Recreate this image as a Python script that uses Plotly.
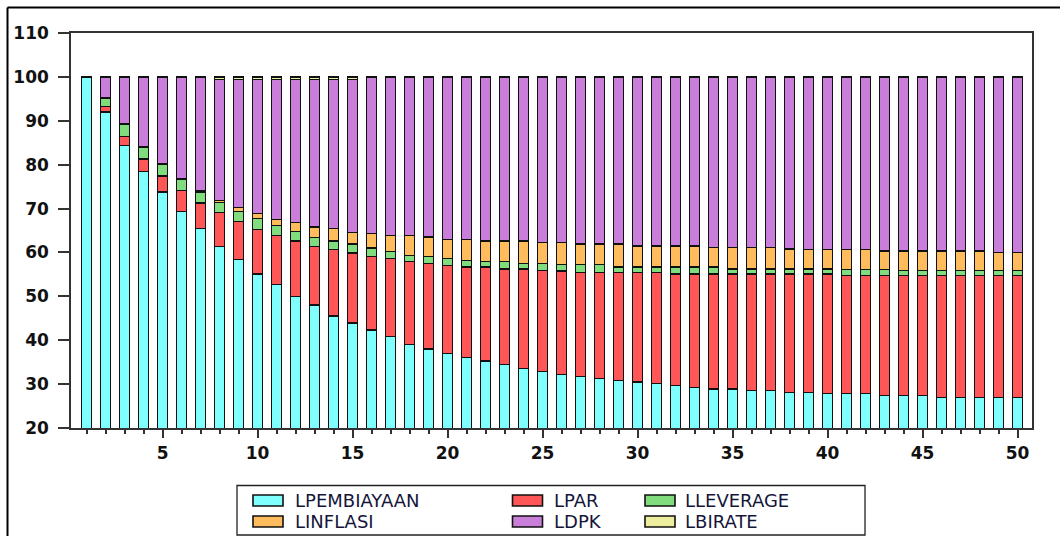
import plotly.graph_objects as go

# Forecast-error variance decomposition, periods 1..50 (percent)
periods = list(range(1, 51))

series_names = ["LPEMBIAYAAN", "LPAR", "LLEVERAGE", "LINFLASI", "LDPK", "LBIRATE"]

lpembiayaan = [100.0, 92.0, 84.4, 78.5, 73.8, 69.4, 65.4, 61.4, 58.4, 55.1,
               52.7, 49.9, 48.0, 45.5, 43.9, 42.3, 40.8, 39.1, 38.0, 36.9,
               36.0, 35.3, 34.4, 33.6, 32.85, 32.2, 31.7, 31.3, 30.9, 30.5,
               30.1, 29.7, 29.3, 28.9, 28.9, 28.5, 28.5, 28.1, 28.1, 27.8,
               27.8, 27.8, 27.4, 27.4, 27.4, 27.0, 27.0, 27.0, 27.0, 27.0]
lpar = [0.0, 1.2, 2.0, 2.8, 3.6, 4.7, 5.9, 7.7, 8.6, 10.2,
        11.1, 12.7, 13.4, 15.1, 16.0, 16.7, 17.8, 18.8, 19.45, 20.2,
        20.7, 21.4, 21.8, 22.6, 23.05, 23.6, 23.8, 24.2, 24.6, 25.0,
        25.4, 25.4, 25.8, 26.2, 26.2, 26.6, 26.6, 27.0, 27.0, 27.3,
        26.9, 26.9, 27.3, 27.3, 27.3, 27.7, 27.7, 27.7, 27.7, 27.7]
lleverage = [0.0, 2.0, 2.9, 2.7, 2.7, 2.5, 2.3, 2.3, 2.4, 2.4,
             2.4, 2.1, 2.0, 2.0, 2.0, 2.0, 1.65, 1.4, 1.55, 1.5,
             1.5, 1.3, 1.8, 1.3, 1.55, 1.4, 1.7, 1.7, 1.2, 1.2,
             1.2, 1.6, 1.6, 1.6, 1.1, 1.1, 1.1, 1.1, 1.1, 1.1,
             1.4, 1.4, 1.4, 1.15, 1.15, 1.15, 1.15, 1.15, 1.15, 1.15]
linflasi = [0.0, 0.1, 0.1, 0.1, 0.1, 0.2, 0.4, 0.4, 0.9, 1.1,
            1.3, 2.2, 2.4, 2.8, 2.7, 3.3, 3.65, 4.6, 4.5, 4.4,
            4.8, 4.6, 4.6, 5.1, 4.75, 5.0, 4.7, 4.7, 5.2, 4.8,
            4.8, 4.8, 4.8, 4.5, 5.0, 5.0, 5.0, 4.6, 4.4, 4.4,
            4.5, 4.5, 4.2, 4.45, 4.45, 4.45, 4.45, 4.45, 4.1, 4.1]
ldpk = [0.0, 4.6, 10.5, 15.8, 19.7, 23.1, 25.9, 27.6, 29.1, 30.6,
        31.9, 32.5, 33.6, 34.0, 34.8, 35.6, 36.0, 36.0, 36.4, 36.9,
        36.9, 37.3, 37.3, 37.3, 37.7, 37.7, 38.0, 38.0, 38.0, 38.4,
        38.4, 38.4, 38.4, 38.7, 38.7, 38.7, 38.7, 39.1, 39.3, 39.3,
        39.3, 39.3, 39.6, 39.6, 39.6, 39.6, 39.6, 39.6, 39.95, 39.95]
lbirate = [0.0, 0.1, 0.1, 0.1, 0.1, 0.1, 0.1, 0.6, 0.6, 0.6,
           0.6, 0.6, 0.6, 0.6, 0.6, 0.1, 0.1, 0.1, 0.1, 0.1,
           0.1, 0.1, 0.1, 0.1, 0.1, 0.1, 0.1, 0.1, 0.1, 0.1,
           0.1, 0.1, 0.1, 0.1, 0.1, 0.1, 0.1, 0.1, 0.1, 0.1,
           0.1, 0.1, 0.1, 0.1, 0.1, 0.1, 0.1, 0.1, 0.1, 0.1]

y_ticks = [20, 30, 40, 50, 60, 70, 80, 90, 100, 110]
x_ticks = [5, 10, 15, 20, 25, 30, 35, 40, 45, 50]

colors = ["#80FFFF", "#FF5757", "#80DC7C", "#FFBC5C", "#C97FDA", "#EDED9E"]
values = [lpembiayaan, lpar, lleverage, linflasi, ldpk, lbirate]

W, H = 1060, 536
ML, MR, MT, MB = 71, 28, 33, 108
PW, PH = W - ML - MR, H - MT - MB


def px(x):
    return (x - ML) / PW


def py(y):
    return 1 - (y - MT) / PH


fig = go.Figure()
for name, vals, col in zip(series_names, values, colors):
    fig.add_trace(go.Bar(
        x=periods, y=vals, name=name,
        marker=dict(color=col, line=dict(color="#111111", width=1.3)),
        showlegend=False,
    ))

tick_font = dict(family="DejaVu Sans", size=17, color="#111111", weight="bold")

fig.update_layout(
    width=W, height=H,
    margin=dict(l=ML, r=MR, t=MT, b=MB, pad=0),
    paper_bgcolor="white", plot_bgcolor="white",
    barmode="stack", bargap=0.46,
    xaxis=dict(
        range=[0.18, 50.76], tickvals=x_ticks, ticktext=[str(v) for v in x_ticks],
        ticks="outside", ticklen=8, tickwidth=1.5, tickcolor="#333333",
        minor=dict(ticks="outside", dtick=1, tick0=0, ticklen=4, tickwidth=1.5,
                   tickcolor="#333333"),
        showline=True, linecolor="#333333", linewidth=1.5, mirror=True,
        showgrid=False, zeroline=False, tickfont=tick_font, ticklabelstandoff=1,
    ),
    yaxis=dict(
        range=[20, 110], tickvals=y_ticks, ticktext=[str(v) for v in y_ticks],
        ticks="outside", ticklen=11, tickwidth=1.5, tickcolor="#333333",
        showline=True, linecolor="#333333", linewidth=1.5, mirror=True,
        showgrid=False, zeroline=False, tickfont=tick_font, ticklabelstandoff=6,
    ),
)

shapes = []
# outer frame edges (left and top)
shapes.append(dict(type="line", xref="paper", yref="paper",
                   x0=px(7.5), x1=px(7.5), y0=py(7.5), y1=py(540),
                   line=dict(color="black", width=2)))
shapes.append(dict(type="line", xref="paper", yref="paper",
                   x0=px(7.5), x1=px(1062), y0=py(7.5), y1=py(7.5),
                   line=dict(color="black", width=2)))
# legend box
shapes.append(dict(type="rect", xref="paper", yref="paper",
                   x0=px(237), x1=px(865), y0=py(485.5), y1=py(535),
                   line=dict(color="#222222", width=1.3), fillcolor="rgba(0,0,0,0)"))

legend_cols = [(253, 294), (512.5, 553), (645, 684)]
legend_rows = [500.5, 521.5]
annotations = []
for i, (name, col) in enumerate(zip(series_names, colors)):
    r, c = divmod(i, 3)
    sx, tx = legend_cols[c]
    cy = legend_rows[r]
    shapes.append(dict(type="rect", xref="paper", yref="paper",
                       x0=px(sx), x1=px(sx + 30), y0=py(cy - 5.5), y1=py(cy + 5.5),
                       line=dict(color="#111111", width=1.6), fillcolor=col))
    annotations.append(dict(xref="paper", yref="paper", x=px(tx), y=py(cy),
                            xanchor="left", yanchor="middle", showarrow=False,
                            text=name, borderpad=0,
                            font=dict(family="DejaVu Sans", size=18, color="#15153a")))

fig.update_layout(shapes=shapes, annotations=annotations)

fig.write_html("out.html")
